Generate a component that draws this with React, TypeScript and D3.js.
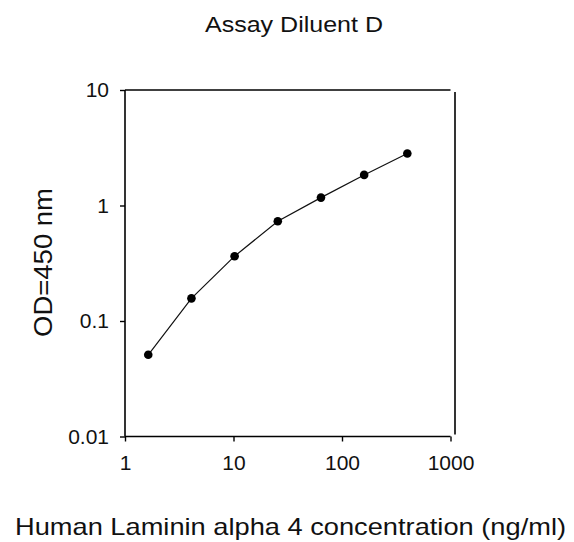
import React, { useEffect, useRef } from "react";
import * as d3 from "d3";

// standard curve
const concentrations = [1.6384, 4.096, 10.24, 25.6, 64, 160, 400];
const odValues = [0.051, 0.157, 0.364, 0.731, 1.17, 1.84, 2.82];
const xTicks = [1, 10, 100, 1000];
const yTicks = [0.01, 0.1, 1, 10];

const title = "Assay Diluent D";
const xLabel = "Human Laminin alpha 4 concentration (ng/ml)";
const yLabel = "OD=450 nm";

export default function App() {
  const ref = useRef<SVGSVGElement>(null);

  useEffect(() => {
    const svg = d3.select(ref.current);
    svg.selectAll("*").remove();

    const x = d3.scaleLog().domain([1, 1000]).range([125, 450.5]);
    const y = d3.scaleLog().domain([0.01, 10]).range([436.5, 90]);

    const font = "Liberation Sans, Arial, sans-serif";

    // bottom axis
    const xAxis = svg
      .append("g")
      .attr("transform", `translate(0,${y(0.01)})`)
      .call(
        d3
          .axisBottom(x)
          .tickValues(xTicks)
          .tickFormat(d3.format("d"))
          .tickSize(5)
          .tickPadding(14)
      );
    xAxis.select(".domain").attr("stroke-width", 1.6).attr("d", `M${x(1)},0H${x(1000)}`);
    xAxis.selectAll(".tick line").attr("stroke-width", 1.4);
    xAxis.selectAll("text").attr("font-size", 21).attr("font-family", font).attr("fill", "#111");

    // left axis
    const yAxis = svg
      .append("g")
      .attr("transform", `translate(${x(1)},0)`)
      .call(
        d3
          .axisLeft(y)
          .tickValues(yTicks)
          .tickFormat((d) => String(d))
          .tickSize(5)
          .tickPadding(11)
      );
    yAxis.select(".domain").attr("stroke-width", 1.6).attr("d", `M0,${y(0.01)}V${y(10)}`);
    yAxis.selectAll(".tick line").attr("stroke-width", 1.4);
    yAxis.selectAll("text").attr("font-size", 21).attr("font-family", font).attr("fill", "#111");

    // top and right frame lines
    svg
      .append("line")
      .attr("x1", x(1))
      .attr("x2", x(1000))
      .attr("y1", y(10))
      .attr("y2", y(10))
      .attr("stroke", "#000")
      .attr("stroke-width", 1.6);
    svg
      .append("line")
      .attr("x1", x(1000) + 4.5)
      .attr("x2", x(1000) + 4.5)
      .attr("y1", y(10) + 2)
      .attr("y2", y(0.01) - 2)
      .attr("stroke", "#000")
      .attr("stroke-width", 1.6);

    const pts: [number, number][] = concentrations.map((c, i) => [c, odValues[i]]);
    const line = d3
      .line<[number, number]>()
      .x((d) => x(d[0]))
      .y((d) => y(d[1]));

    svg
      .append("path")
      .datum(pts)
      .attr("d", line)
      .attr("fill", "none")
      .attr("stroke", "#111")
      .attr("stroke-width", 1.2);

    svg
      .selectAll("circle.pt")
      .data(pts)
      .enter()
      .append("circle")
      .attr("class", "pt")
      .attr("cx", (d) => x(d[0]))
      .attr("cy", (d) => y(d[1]))
      .attr("r", 4.3)
      .attr("fill", "#000");

    svg
      .append("text")
      .attr("x", 294)
      .attr("y", 32)
      .attr("text-anchor", "middle")
      .attr("font-size", 22)
      .attr("font-family", font)
      .attr("fill", "#111")
      .attr("textLength", 178)
      .attr("lengthAdjust", "spacingAndGlyphs")
      .text(title);

    svg
      .append("text")
      .attr("x", 290.5)
      .attr("y", 535)
      .attr("text-anchor", "middle")
      .attr("font-size", 24)
      .attr("font-family", font)
      .attr("fill", "#111")
      .attr("textLength", 551)
      .attr("lengthAdjust", "spacingAndGlyphs")
      .text(xLabel);

    svg
      .append("text")
      .attr("transform", `translate(52,262.5) rotate(-90)`)
      .attr("text-anchor", "middle")
      .attr("font-size", 26)
      .attr("font-family", font)
      .attr("fill", "#111")
      .attr("textLength", 149)
      .attr("lengthAdjust", "spacingAndGlyphs")
      .text(yLabel);
  }, []);

  return (
    <svg
      ref={ref}
      width={574}
      height={542}
      style={{ position: "absolute", left: 0, top: 0, background: "#fff" }}
    />
  );
}
